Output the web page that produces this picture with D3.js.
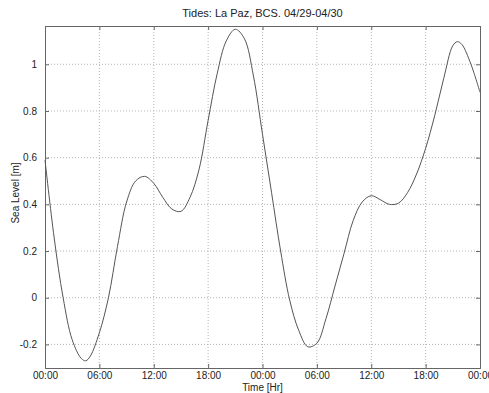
<!DOCTYPE html>
<html>
<head>
<meta charset="utf-8">
<script src="https://cdn.jsdelivr.net/npm/d3@7"></script>
<style>
  body { margin: 0; background: #fff; }
  svg { display: block; font-family: "Liberation Sans", Arial, sans-serif; }
  .grid line { stroke: #b4b4b4; stroke-dasharray: 1,2; }
  .axis text { font-size: 10px; fill: #222; }
</style>
</head>
<body>
<div id="chart"></div>
<script>
// hours since 04/29 00:00
const hours = [0, 1, 2, 3, 4, 4.5, 5, 6, 7, 8, 9, 10, 11, 12, 13, 14, 15, 16, 17, 18,
  19, 20, 21, 22, 23, 24, 25, 26, 27, 28, 29, 30, 31, 32, 33, 34, 35, 36, 37, 38,
  39, 40, 41, 42, 43, 44, 45, 45.5, 46, 47, 48];
// sea level [m]
const level = [0.59, 0.26, 0.0, -0.18, -0.26, -0.27, -0.25, -0.15, 0.0, 0.22, 0.41, 0.50, 0.52, 0.49, 0.43, 0.38, 0.37, 0.43, 0.55, 0.76,
  0.96, 1.10, 1.15, 1.11, 0.95, 0.70, 0.45, 0.20, -0.01, -0.14, -0.21, -0.195, -0.09, 0.05, 0.19, 0.33, 0.41, 0.437, 0.42, 0.40,
  0.405, 0.45, 0.53, 0.64, 0.78, 0.94, 1.08, 1.097, 1.085, 1.0, 0.88];
const xTicks = [0, 6, 12, 18, 24, 30, 36, 42, 48];
const xTickLabels = ["00:00", "06:00", "12:00", "18:00", "00:00", "06:00", "12:00", "18:00", "00:00"];
const yTicks = [-0.2, 0, 0.2, 0.4, 0.6, 0.8, 1];

const width = 489, height = 393;
const margin = {top: 26, right: 9, bottom: 25, left: 45};
const w = width - margin.left - margin.right;
const h = height - margin.top - margin.bottom;

const x = d3.scaleLinear().domain([0, 48]).range([0, w]);
const y = d3.scaleLinear().domain([-0.301, 1.164]).range([h, 0]);

const svg = d3.select("#chart").append("svg")
    .attr("width", width)
    .attr("height", height);

const g = svg.append("g")
    .attr("transform", "translate(" + margin.left + "," + margin.top + ")");

// grid
g.append("g").attr("class", "grid")
    .selectAll("line").data(xTicks.slice(1, -1)).enter().append("line")
    .attr("x1", d => x(d)).attr("x2", d => x(d))
    .attr("y1", 0).attr("y2", h);
g.append("g").attr("class", "grid")
    .selectAll("line").data(yTicks).enter().append("line")
    .attr("x1", 0).attr("x2", w)
    .attr("y1", d => y(d)).attr("y2", d => y(d));

// axes, ticks pointing inward
const fmt = d => (d === 0 || d === 1) ? String(d) : d.toFixed(1);
g.append("g").attr("class", "axis")
    .attr("transform", "translate(0," + h + ")")
    .call(d3.axisBottom(x).tickValues(xTicks).tickSize(-4).tickPadding(4)
      .tickFormat((d, i) => xTickLabels[i]));
g.append("g").attr("class", "axis")
    .call(d3.axisLeft(y).tickValues(yTicks).tickSize(-4).tickPadding(8).tickFormat(fmt));
g.append("g").attr("class", "axis")
    .call(d3.axisTop(x).tickValues(xTicks).tickSize(-4).tickFormat(""));
g.append("g").attr("class", "axis")
    .attr("transform", "translate(" + w + ",0)")
    .call(d3.axisRight(y).tickValues(yTicks).tickSize(-4).tickFormat(""));
g.selectAll(".axis path.domain").attr("stroke", "#666");
g.selectAll(".axis line").attr("stroke", "#666");

// curve
const line = d3.line()
    .x((d, i) => x(hours[i]))
    .y(d => y(d))
    .curve(d3.curveCatmullRom.alpha(0.5));
g.append("path")
    .datum(level)
    .attr("fill", "none")
    .attr("stroke", "#555")
    .attr("stroke-width", 1)
    .attr("d", line);

// labels
svg.append("text")
    .attr("x", margin.left + w / 2)
    .attr("y", 17)
    .attr("text-anchor", "middle")
    .style("font-size", "11px")
    .attr("fill", "#222")
    .text("Tides: La Paz, BCS. 04/29-04/30");
svg.append("text")
    .attr("x", margin.left + w / 2)
    .attr("y", 391)
    .attr("text-anchor", "middle")
    .style("font-size", "10px")
    .attr("fill", "#222")
    .text("Time [Hr]");
svg.append("text")
    .attr("transform", "rotate(-90)")
    .attr("x", -193)
    .attr("y", 19)
    .attr("text-anchor", "middle")
    .style("font-size", "10px")
    .attr("fill", "#222")
    .text("Sea Level [m]");
</script>
</body>
</html>
